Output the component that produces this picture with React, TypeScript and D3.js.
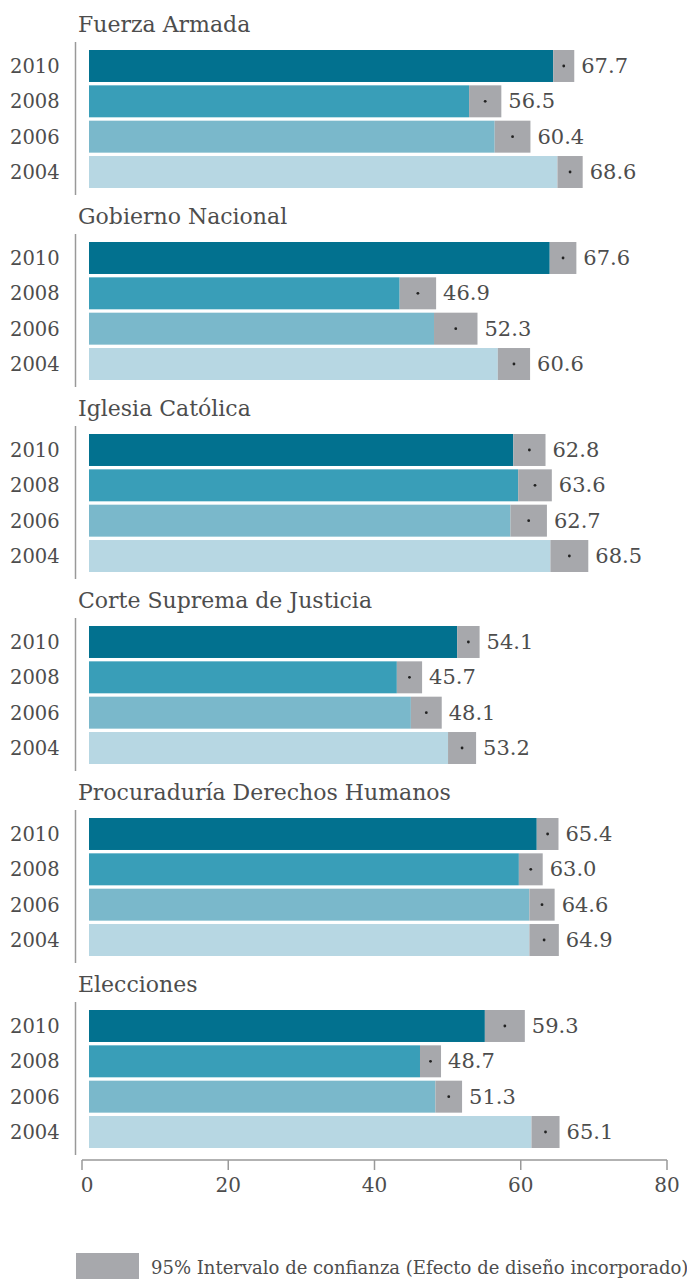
import React from "react";
import * as d3 from "d3";

const years = ["2010", "2008", "2006", "2004"];
const yearColors = ["#02718F", "#399EB8", "#7AB8CB", "#B7D7E3"];
const institutions = [
  "Fuerza Armada",
  "Gobierno Nacional",
  "Iglesia Católica",
  "Corte Suprema de Justicia",
  "Procuraduría Derechos Humanos",
  "Elecciones",
];
// values per institution, order: 2010, 2008, 2006, 2004
const fuerzaArmada = [67.7, 56.5, 60.4, 68.6];
const gobiernoNacional = [67.6, 46.9, 52.3, 60.6];
const iglesiaCatolica = [62.8, 63.6, 62.7, 68.5];
const corteSuprema = [54.1, 45.7, 48.1, 53.2];
const procuraduria = [65.4, 63.0, 64.6, 64.9];
const elecciones = [59.3, 48.7, 51.3, 65.1];
// half-width of the 95% confidence interval
const fuerzaArmadaCI = [1.5, 2.3, 2.55, 1.8];
const gobiernoNacionalCI = [1.9, 2.6, 3.1, 2.3];
const iglesiaCatolicaCI = [2.3, 2.4, 2.6, 2.7];
const corteSupremaCI = [1.6, 1.8, 2.2, 2.0];
const procuraduriaCI = [1.55, 1.7, 1.8, 2.1];
const eleccionesCI = [2.85, 1.5, 1.9, 2.0];
const axisTicks = [0, 20, 40, 60, 80];
const legendLabel = "95% Intervalo de confianza (Efecto de diseño incorporado)";

const allValues = [fuerzaArmada, gobiernoNacional, iglesiaCatolica, corteSuprema, procuraduria, elecciones];
const allCI = [fuerzaArmadaCI, gobiernoNacionalCI, iglesiaCatolicaCI, corteSupremaCI, procuraduriaCI, eleccionesCI];

const W = 687;
const H = 1279;
const FONT = "'DejaVu Serif', serif";
const TEXT = "#4d4d4d";
const GREY = "#A7A8AC";

export default function App() {
  const xBar = d3.scaleLinear().domain([0, 80]).range([89, 650]);
  const xAxis = d3.scaleLinear().domain([0, 80]).range([82, 667]);
  const panelY = d3.scaleBand<string>().domain(institutions).range([50, 50 + 6 * 192]).paddingInner(0);
  const yBand = d3.scaleBand<string>().domain(years).range([0, 138]).paddingInner(0.095);
  const axisY = 1160;

  return (
    <svg
      width={W}
      height={H}
      style={{ position: "absolute", left: 0, top: 0, background: "#fff" }}
      fontFamily={FONT}
    >
      {institutions.map((name, pi) => {
        const top = panelY(name)!;
        const vals = allValues[pi];
        const cis = allCI[pi];
        return (
          <g key={name}>
            <text x={78} y={top - 18} fontSize={22} fill={TEXT}>
              {name}
            </text>
            <line x1={75.5} x2={75.5} y1={top - 8} y2={top + 145} stroke="#999" strokeWidth={1.5} />
            {years.map((yr, i) => {
              const y = top + yBand(yr)!;
              const h = yBand.bandwidth();
              const v = vals[i];
              const lo = v - cis[i];
              const hi = v + cis[i];
              const cy = y + h / 2;
              return (
                <g key={yr}>
                  <text x={10} y={cy + 7} fontSize={19.5} fill={TEXT}>
                    {yr}
                  </text>
                  <rect x={xBar(0)} y={y} width={xBar(lo) - xBar(0)} height={h} fill={yearColors[i]} />
                  <rect x={xBar(lo)} y={y} width={xBar(hi) - xBar(lo)} height={h} fill={GREY} />
                  <circle cx={xBar(v)} cy={cy} r={1.4} fill="#222" />
                  <text x={xBar(hi) + 7} y={cy + 7} fontSize={21} fill={TEXT}>
                    {v.toFixed(1)}
                  </text>
                </g>
              );
            })}
          </g>
        );
      })}
      <line x1={xAxis(0)} x2={xAxis(80)} y1={axisY} y2={axisY} stroke="#999" strokeWidth={1.5} />
      {axisTicks.map((t) => (
        <g key={t}>
          <line x1={xAxis(t)} x2={xAxis(t)} y1={axisY} y2={axisY + 10} stroke="#999" strokeWidth={1.5} />
          <text x={xAxis(t) + (t === 0 ? 5 : 0)} y={axisY + 32} fontSize={20} fill={TEXT} textAnchor="middle">
            {t}
          </text>
        </g>
      ))}
      <rect x={76} y={1253} width={63} height={26} fill={GREY} />
      <text x={151} y={1274} fontSize={18} fill={TEXT}>
        {legendLabel}
      </text>
    </svg>
  );
}
